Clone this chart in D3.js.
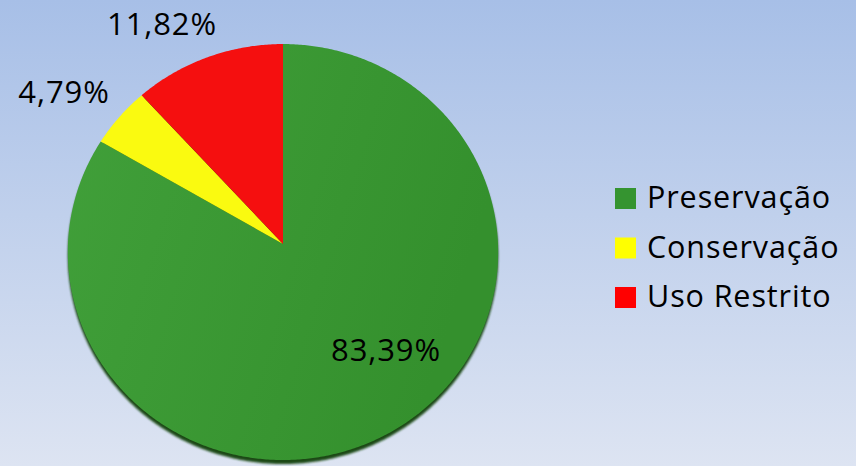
<!DOCTYPE html>
<html><head><meta charset="utf-8">
<script src="https://cdn.jsdelivr.net/npm/d3@7"></script>
<style>html,body{margin:0;padding:0;overflow:hidden;}svg{display:block;}</style>
</head><body>
<svg id="chart" width="856" height="466"></svg>
<script>
const categories = ["Preservação", "Conservação", "Uso Restrito"];
const values = [83.39, 4.79, 11.82];
const valueLabels = ["83,39%", "4,79%", "11,82%"];
const colors = ["#3a9632", "#fafa10", "#f50f0f"];
const legendColors = ["#359430", "#ffff00", "#ff0000"];

const W = 856, H = 466;
const svg = d3.select("#chart");
const defs = svg.append("defs");

const bg = defs.append("linearGradient").attr("id", "bg").attr("x1", 0).attr("y1", 0).attr("x2", 0).attr("y2", 1);
bg.append("stop").attr("offset", "0%").attr("stop-color", "#a7bfe7");
bg.append("stop").attr("offset", "100%").attr("stop-color", "#dde4f2");
svg.append("rect").attr("width", W).attr("height", H).attr("fill", "url(#bg)");

const blur = defs.append("filter").attr("id", "blur").attr("x", "-10%").attr("y", "-10%").attr("width", "120%").attr("height", "120%");
blur.append("feGaussianBlur").attr("stdDeviation", 1.2);

// perspective-tilted pie
const cx = 283, cy = 244, R = 215;
const tilt = 15 * Math.PI / 180, D = 6.7;
function proj(a, r) {
  const x = r * Math.sin(a), y = r * Math.cos(a);
  const Y = y * Math.cos(tilt), Z = y * Math.sin(tilt);
  const f = D / (D + Z);
  return [cx + R * x * f, cy - R * Y * f];
}
function slicePath(a0, a1) {
  const p = d3.path();
  const c = proj(0, 0);
  p.moveTo(c[0], c[1]);
  const n = Math.max(2, Math.ceil((a1 - a0) / (Math.PI / 360)));
  for (let i = 0; i <= n; i++) {
    const pt = proj(a0 + (a1 - a0) * i / n, 1);
    p.lineTo(pt[0], pt[1]);
  }
  p.closePath();
  return p.toString();
}

const pie = d3.pie().sort(null).value(d => d);
const arcs = pie(values);

// dark rim / thickness
svg.append("path").attr("d", slicePath(0, 2 * Math.PI))
  .attr("transform", "translate(0,4)")
  .attr("fill", "#1b4a14").attr("filter", "url(#blur)");

const g1 = defs.append("linearGradient").attr("id", "g0").attr("x1", 0).attr("y1", 0).attr("x2", 1).attr("y2", 0.3);
g1.append("stop").attr("offset", "0%").attr("stop-color", "#41a03a");
g1.append("stop").attr("offset", "100%").attr("stop-color", "#34902d");

svg.selectAll("path.slice").data(arcs).enter().append("path")
  .attr("class", "slice")
  .attr("d", d => slicePath(d.startAngle, d.endAngle))
  .attr("fill", (d, i) => i === 0 ? "url(#g0)" : colors[i]);

// labels
const labelPos = [[386, 361], [64, 103], [162, 35]];
svg.selectAll("text.val").data(arcs).enter().append("text")
  .attr("class", "val")
  .attr("x", (d, i) => labelPos[i][0]).attr("y", (d, i) => labelPos[i][1])
  .attr("text-anchor", "middle")
  .attr("font-family", "'Open Sans', sans-serif").attr("font-size", 31)
  .attr("letter-spacing", 0.9)
  .attr("fill", "#000")
  .text((d, i) => valueLabels[i]);

// legend
const legend = svg.append("g").attr("transform", "translate(615,188)");
const rows = legend.selectAll("g").data(categories).enter().append("g")
  .attr("transform", (d, i) => `translate(0,${i * 49.5})`);
rows.append("rect").attr("width", 21).attr("height", 21).attr("fill", (d, i) => legendColors[i]);
rows.append("text").attr("x", 32).attr("y", 20)
  .attr("font-family", "'Open Sans', sans-serif").attr("font-size", 30.5)
  .attr("letter-spacing", 0.9)
  .attr("fill", "#000").text(d => d);
</script>
</body></html>
